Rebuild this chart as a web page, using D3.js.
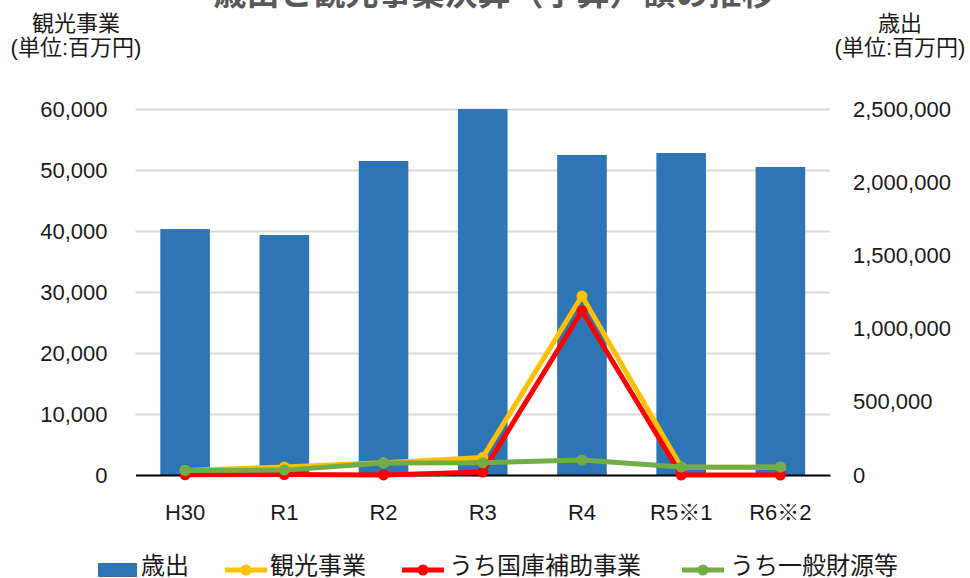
<!DOCTYPE html>
<html>
<head>
<meta charset="utf-8">
<script src="https://cdn.jsdelivr.net/npm/d3@7"></script>
<style>
  html, body { margin: 0; padding: 0; background: #fff; }
  svg { display: block; }
  text { font-family: "Liberation Sans", "Noto Sans CJK JP", sans-serif; fill: #1a1a1a; }
</style>
</head>
<body>
<svg id="chart" width="970" height="578"></svg>
<script>
// 年度
const categories = ["H30", "R1", "R2", "R3", "R4", "R5※1", "R6※2"];
// 歳出（百万円, 右軸）
const expenditure = [1680000, 1639000, 2145000, 2500000, 2186000, 2199000, 2104000];
// 観光事業（百万円, 左軸）
const tourism = [750, 1300, 2000, 2880, 29340, 1300, 1280];
// うち国庫補助事業
const subsidy = [30, 80, 20, 480, 26930, 0, 0];
// うち一般財源等
const generalFunds = [720, 800, 1980, 2000, 2460, 1300, 1280];
// 軸目盛
const leftTicks = [0, 10000, 20000, 30000, 40000, 50000, 60000];
const rightTicks = [0, 500000, 1000000, 1500000, 2000000, 2500000];

const svg = d3.select("#chart");
const m = { left: 135.5, right: 830, top: 109, bottom: 475 };

const x = d3.scaleBand()
  .domain(categories)
  .range([m.left, m.right])
  .paddingInner(0.5)
  .paddingOuter(0.25);
const cx = d => x(d) + x.bandwidth() / 2;

const yL = d3.scaleLinear().domain([0, 60000]).range([m.bottom, m.top]);
const yR = d3.scaleLinear().domain([0, 2500000]).range([m.bottom, m.top]);
const fmt = d3.format(",");

// タイトル
svg.append("text")
  .attr("x", 494).attr("y", 5)
  .attr("text-anchor", "middle")
  .style("font-family", "'Noto Sans CJK JP', sans-serif")
  .style("font-weight", "bold")
  .style("font-size", "33px")
  .style("fill", "#595959")
  .text("歳出と観光事業決算（予算）額の推移");

// 軸タイトル
const axisTitle = (cxPos, lines) => {
  lines.forEach((t, i) => {
    svg.append("text")
      .attr("x", cxPos).attr("y", 31 + i * 24)
      .attr("text-anchor", "middle")
      .style("font-size", "22px")
      .text(t);
  });
};
axisTitle(76, ["観光事業", "(単位:百万円)"]);
axisTitle(900, ["歳出", "(単位:百万円)"]);

// グリッド線
svg.append("g")
  .attr("transform", `translate(${m.left},0)`)
  .call(d3.axisLeft(yL).tickValues(leftTicks.slice(1)).tickSize(-(m.right - m.left)).tickFormat(""))
  .call(g => g.select(".domain").remove())
  .call(g => g.selectAll("line").attr("stroke", "#D9D9D9").attr("stroke-width", 2));

// 左軸ラベル
svg.append("g")
  .attr("transform", `translate(${m.left},0)`)
  .call(d3.axisLeft(yL).tickValues(leftTicks).tickSize(0).tickPadding(28).tickFormat(fmt))
  .call(g => g.select(".domain").remove())
  .call(g => g.selectAll("text").style("font-size", "22px").style("fill", "#1a1a1a")
    .style("font-family", "'Liberation Sans', sans-serif"));

// 右軸ラベル
svg.append("g")
  .attr("transform", `translate(${m.right},0)`)
  .call(d3.axisRight(yR).tickValues(rightTicks).tickSize(0).tickPadding(23).tickFormat(fmt))
  .call(g => g.select(".domain").remove())
  .call(g => g.selectAll("text").style("font-size", "22px").style("fill", "#1a1a1a")
    .style("font-family", "'Liberation Sans', sans-serif"));

// 歳出（棒）
svg.append("g").selectAll("rect")
  .data(expenditure)
  .join("rect")
  .attr("x", (d, i) => x(categories[i]))
  .attr("width", x.bandwidth())
  .attr("y", d => yR(d))
  .attr("height", d => yR(0) - yR(d))
  .attr("fill", "#2E75B6");

// 横軸
svg.append("g")
  .attr("transform", `translate(0,${m.bottom})`)
  .call(d3.axisBottom(x).tickSize(0).tickPadding(29))
  .call(g => g.select(".domain").attr("stroke", "#000").attr("stroke-width", 2))
  .call(g => g.selectAll("text").style("font-size", "22px").style("fill", "#1a1a1a"));

// 折れ線
const series = [
  { name: "観光事業", values: tourism, color: "#FFC000" },
  { name: "うち国庫補助事業", values: subsidy, color: "#FF0000" },
  { name: "うち一般財源等", values: generalFunds, color: "#70AD47" }
];
const line = d3.line().x((d, i) => cx(categories[i])).y(d => yL(d));
series.forEach(s => {
  const g = svg.append("g");
  g.append("path")
    .attr("d", line(s.values))
    .attr("fill", "none")
    .attr("stroke", s.color)
    .attr("stroke-width", 5)
    .attr("stroke-linejoin", "round");
  g.selectAll("circle")
    .data(s.values)
    .join("circle")
    .attr("cx", (d, i) => cx(categories[i]))
    .attr("cy", d => yL(d))
    .attr("r", 5.5)
    .attr("fill", s.color);
});

// 凡例
const legend = svg.append("g");
legend.append("rect")
  .attr("x", 98).attr("y", 563).attr("width", 39).attr("height", 14)
  .attr("fill", "#2E75B6");
legend.append("text")
  .attr("x", 141).attr("y", 574)
  .style("font-size", "24px")
  .text("歳出");
const legendLines = [
  { s: series[0], x0: 225, tx: 270 },
  { s: series[1], x0: 402, tx: 449 },
  { s: series[2], x0: 682, tx: 730 }
];
legendLines.forEach(l => {
  legend.append("line")
    .attr("x1", l.x0).attr("x2", l.x0 + 42)
    .attr("y1", 570).attr("y2", 570)
    .attr("stroke", l.s.color).attr("stroke-width", 5);
  legend.append("circle")
    .attr("cx", l.x0 + 21).attr("cy", 570).attr("r", 5.5)
    .attr("fill", l.s.color);
  legend.append("text")
    .attr("x", l.tx).attr("y", 574)
    .style("font-size", "24px")
    .text(l.s.name);
});
</script>
</body>
</html>
